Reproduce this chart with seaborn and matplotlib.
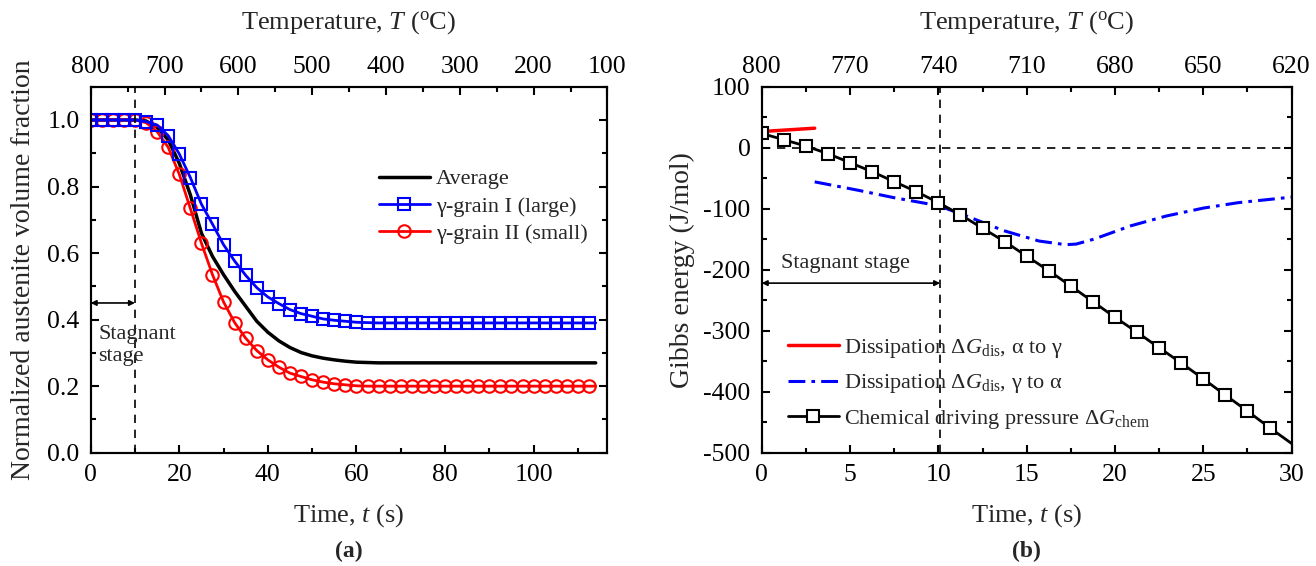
import numpy as np
import matplotlib
matplotlib.use('Agg')
import matplotlib.pyplot as plt
from matplotlib.ticker import MultipleLocator, AutoMinorLocator, FormatStrFormatter
import seaborn as sns

# ---- data ----
# (a) austenite fraction, sampled every 2.5 s (last point is the line end)
t_frac = list(np.arange(0, 115, 2.5)) + [114]
frac_avg = [1.0, 1.0, 1.0, 1.0, 1.0, 0.997, 0.978, 0.94, 0.87, 0.775, 0.66, 0.59,
            0.535, 0.485, 0.44, 0.395, 0.362, 0.336, 0.316, 0.301, 0.291, 0.284,
            0.279, 0.275, 0.272, 0.271] + [0.27] * 21
frac_large = [1.0, 1.0, 1.0, 1.0, 1.0, 0.995, 0.985, 0.953, 0.898, 0.827, 0.747, 0.687,
              0.625, 0.576, 0.533, 0.496, 0.468, 0.448, 0.430, 0.418, 0.410, 0.402,
              0.398, 0.395, 0.392, 0.391] + [0.39] * 21
frac_small = [1.0, 1.0, 1.0, 1.0, 1.0, 0.992, 0.965, 0.918, 0.837, 0.734, 0.630, 0.535,
              0.453, 0.391, 0.344, 0.307, 0.279, 0.257, 0.239, 0.229, 0.219, 0.212,
              0.207, 0.204, 0.201, 0.200] + [0.20] * 21

# (b) Gibbs energy (J/mol)
t_chem = np.arange(0, 30.01, 1.25)
g_chem = [23.4, 13.1, 2.7, -9.8, -24.5, -39.3, -55.6, -72, -90, -110, -132, -153.8,
          -177.8, -201.7, -226.8, -252.5, -278, -302.6, -328, -353, -379, -405.7,
          -431.8, -459, -485]
t_dis_ag = [0, 3]
g_dis_ag = [26.5, 32]
t_dis_ga = [3, 5.5, 7.5, 10, 11.6, 13.7, 15.7, 17.2, 17.8, 18.8, 20.9, 22.9, 25, 27, 30]
g_dis_ga = [-56, -70, -82, -95, -112, -136, -153, -159, -158, -150, -128, -112, -99, -90, -81]

temp_ticks_a = [800, 700, 600, 500, 400, 300, 200, 100]
temp_ticks_b = [800, 770, 740, 710, 680, 650, 620]

# ---- style ----
sns.set_theme(style='ticks')
plt.rcParams['font.family'] = ['Liberation Serif', 'DejaVu Serif']
plt.rcParams['mathtext.fontset'] = 'custom'
plt.rcParams['mathtext.rm'] = 'Liberation Serif'
plt.rcParams['mathtext.it'] = 'Liberation Serif:italic'
plt.rcParams['axes.unicode_minus'] = False
plt.rcParams['axes.linewidth'] = 1.5
plt.rcParams['axes.edgecolor'] = 'black'

TICK = 18.5
LAB = 19
YLAB = 20
LEG = 16

fig = plt.figure(figsize=(13.16, 5.66), dpi=100)
ax1 = fig.add_axes([0.0689, 0.2002, 0.3927, 0.6466])
ax2 = fig.add_axes([0.5788, 0.2002, 0.4027, 0.6466])


def style_axes(ax, top):
    for a in (ax, top):
        a.tick_params(which='both', direction='in', labelsize=TICK, colors='black')
        a.tick_params(which='major', length=6, width=1.5)
        a.tick_params(which='minor', length=3.5, width=1.5)
    ax.tick_params(which='both', top=False, right=True, pad=8)
    top.tick_params(which='both', top=True, bottom=False, left=False, right=False, pad=6)
    ax.xaxis.set_minor_locator(AutoMinorLocator(2))
    ax.yaxis.set_minor_locator(AutoMinorLocator(2))


dash = (0, (5, 4))

# ---- (a) ----
sns.lineplot(x=t_frac, y=frac_avg, ax=ax1, color='black', lw=2.5, label='Average')
sns.lineplot(x=t_frac, y=frac_small, ax=ax1, color='red', lw=2, marker='o', ms=9,
             mfc='none', mec='red', mew=1.5, markevery=slice(0, -1),
             label='γ-grain II (small)')
sns.lineplot(x=t_frac, y=frac_large, ax=ax1, color='blue', lw=2, marker='s', ms=8,
             mfc='none', mec='blue', mew=1.5, markevery=slice(0, -1),
             label='γ-grain I (large)')
ax1.axvline(10, color='black', lw=1.2, ls=dash)
ax1.annotate('', xy=(0, 0.45), xytext=(10, 0.45),
             arrowprops=dict(arrowstyle='<|-|>', lw=1.2, color='black',
                             shrinkA=0, shrinkB=0, mutation_scale=8))
ax1.text(1.7, 0.385, 'Stagnant\nstage', fontsize=LEG, va='top', ha='left', linespacing=1.25)
ax1.set_xlim(0, 700 / 6)
ax1.set_ylim(0, 1.1)
ax1.xaxis.set_major_locator(MultipleLocator(20))
ax1.yaxis.set_major_locator(MultipleLocator(0.2))
ax1.yaxis.set_major_formatter(FormatStrFormatter('%.1f'))
ax1.set_xlabel('Time, $t$ (s)', fontsize=LAB, labelpad=12)
ax1.set_ylabel('Normalized austenite volume fraction', fontsize=YLAB, labelpad=8)
h, l = ax1.get_legend_handles_labels()
order = [0, 2, 1]
ax1.legend([h[i] for i in order], [l[i] for i in order],
           loc='upper left', bbox_to_anchor=(0.5405, 0.80), frameon=False, fontsize=LEG,
           handlelength=2.3, handletextpad=0.25, labelspacing=0.3, borderaxespad=0)

top1 = ax1.twiny()
top1.set_xlim(800, 100)
top1.set_xticks(temp_ticks_a)
top1.set_xticks([750, 650, 550, 450, 350, 250, 150], minor=True)
top1.set_xlabel('Temperature, $T$ ($^{\\mathrm{o}}$C)', fontsize=LAB, labelpad=20)
style_axes(ax1, top1)

# ---- (b) ----
sns.lineplot(x=t_dis_ag, y=g_dis_ag, ax=ax2, color='red', lw=2.5,
             label='Dissipation Δ$G_{\\mathrm{dis}}$, α to γ')
sns.lineplot(x=t_dis_ga, y=g_dis_ga, ax=ax2, color='blue', lw=2.2,
             label='Dissipation Δ$G_{\\mathrm{dis}}$, γ to α')
ax2.lines[-1].set_linestyle((0, (5.5, 2, 1.2, 2)))
sns.lineplot(x=t_chem, y=g_chem, ax=ax2, color='black', lw=2, marker='s', ms=9,
             mfc='white', mec='black', mew=1.5, markevery=slice(0, -1),
             label='Chemical driving pressure Δ$G_{\\mathrm{chem}}$')
ax2.axhline(0, color='black', lw=1.2, ls=dash, zorder=0)
ax2.axvline(10.1, color='black', lw=1.2, ls=dash, zorder=0)
ax2.annotate('', xy=(0, -222), xytext=(10.1, -222),
             arrowprops=dict(arrowstyle='<|-|>', lw=1.2, color='black',
                             shrinkA=0, shrinkB=0, mutation_scale=8))
ax2.text(1.1, -190, 'Stagnant stage', fontsize=LEG, va='center', ha='left')
ax2.set_xlim(0, 30)
ax2.set_ylim(-500, 100)
ax2.xaxis.set_major_locator(MultipleLocator(5))
ax2.yaxis.set_major_locator(MultipleLocator(100))
ax2.set_xlabel('Time, $t$ (s)', fontsize=LAB, labelpad=12)
ax2.set_ylabel('Gibbs energy (J/mol)', fontsize=YLAB, labelpad=6)
ax2.legend(loc='lower left', bbox_to_anchor=(0.032, 0.036), frameon=False, fontsize=LEG,
           handlelength=2.3, handletextpad=0.25, labelspacing=0.55, borderaxespad=0)

top2 = ax2.twiny()
top2.set_xlim(800, 620)
top2.set_xticks(temp_ticks_b)
top2.set_xticks([785, 755, 725, 695, 665, 635], minor=True)
top2.set_xlabel('Temperature, $T$ ($^{\\mathrm{o}}$C)', fontsize=LAB, labelpad=20)
style_axes(ax2, top2)

fig.text(0.265, 0.025, '(a)', fontsize=17, fontweight='bold', ha='center', va='center')
fig.text(0.780, 0.025, '(b)', fontsize=17, fontweight='bold', ha='center', va='center')

fig.savefig('out.png', dpi=100)
